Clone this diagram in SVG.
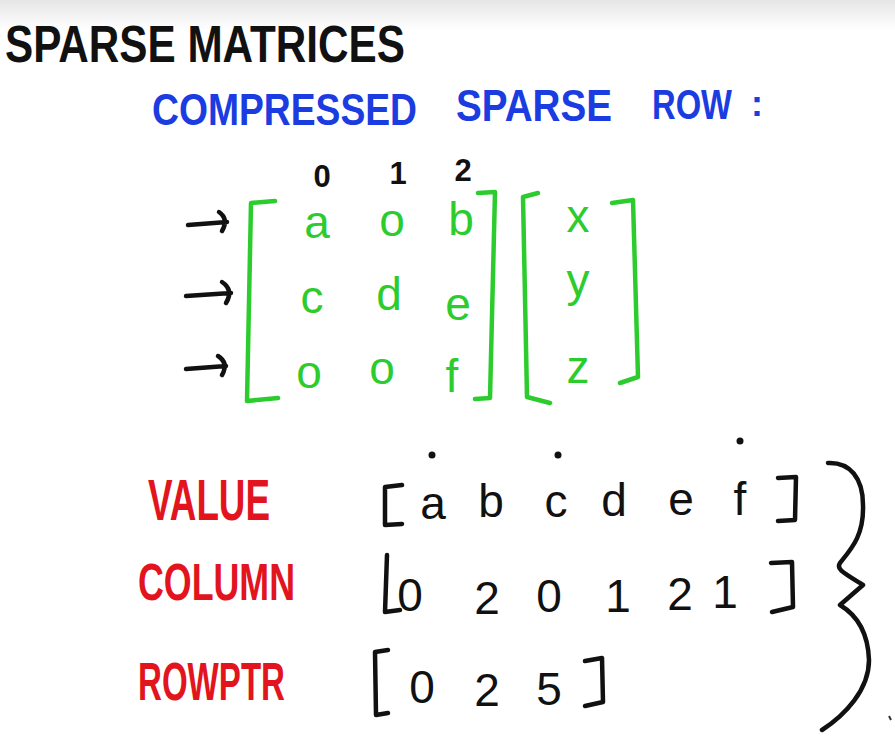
<svg xmlns="http://www.w3.org/2000/svg" width="895" height="741" viewBox="0 0 895 741">
<defs>
<linearGradient id="bg" x1="0" y1="0" x2="0" y2="1">
<stop offset="0" stop-color="#e6e6e6"/>
<stop offset="1" stop-color="#ffffff"/>
</linearGradient>
<style>
.t{font-family:"Liberation Sans",Arial,sans-serif;font-weight:bold}
.h{font-family:"Liberation Sans",Arial,sans-serif}
.blk{fill:#111}
.blue{fill:#1a3ce0}
.red{fill:#e2141e}
.grn{fill:#2ccc2e}
.gs{fill:none;stroke:#2ccc2e;stroke-width:4.5;stroke-linecap:round;stroke-linejoin:round}
.ks{fill:none;stroke:#111;stroke-width:4.5;stroke-linecap:round;stroke-linejoin:round}
</style>
</defs>
<rect width="895" height="741" fill="#ffffff"/>
<rect width="895" height="30" fill="url(#bg)"/>

<g id="title">
<text class="t blk" x="5" y="62" font-size="52" textLength="400" lengthAdjust="spacingAndGlyphs">SPARSE MATRICES</text>
</g>
<g id="subtitle">
<text class="t blue" x="152" y="125" font-size="44" textLength="265" lengthAdjust="spacingAndGlyphs">COMPRESSED</text>
<text class="t blue" x="456" y="121" font-size="44" textLength="156" lengthAdjust="spacingAndGlyphs">SPARSE</text>
<text class="t blue" transform="translate(652,119) scale(1,1.3)" x="0" y="0" font-size="32" textLength="80" lengthAdjust="spacingAndGlyphs">ROW</text>
<text class="t blue" x="751" y="116" font-size="36">:</text>
</g>

<g id="col-indices" class="t blk" font-size="31" text-anchor="middle">
<text x="322" y="187">0</text>
<text x="398" y="184">1</text>
<text x="463" y="181">2</text>
</g>

<g id="row-arrows">
<path class="ks" d="M188,225 L227,222 M219,212 Q229,219 222,231"/>
<path class="ks" d="M186,296 L231,293 M222,282 Q234,290 226,303"/>
<path class="ks" d="M186,369 L226,366 M218,356 Q229,363 222,375"/>
</g>

<g id="matrix">
<path class="gs" d="M275,201 L251,203 L247,401 L278,398"/>
<path class="gs" d="M478,193 L495,192 L490,398 L475,399"/>
<g class="h grn" font-size="46" text-anchor="middle">
<text x="317" y="238">a</text>
<text x="392" y="236">o</text>
<text x="461" y="235">b</text>
<text x="312" y="313">c</text>
<text x="389" y="310">d</text>
<text x="458" y="320">e</text>
<text x="309" y="388">o</text>
<text x="382" y="384">o</text>
<text x="452" y="392">f</text>
</g>
</g>

<g id="vector">
<path class="gs" d="M538,193 L523,197 L527,397 L550,403"/>
<path class="gs" d="M612,203 L633,200 L638,377 L620,383"/>
<g class="h grn" font-size="46" text-anchor="middle">
<text x="578" y="232">x</text>
<text x="578" y="296">y</text>
<text x="578" y="383">z</text>
</g>
</g>

<g id="labels" class="t red">
<text x="148" y="520" font-size="58" textLength="122" lengthAdjust="spacingAndGlyphs">VALUE</text>
<text x="138" y="600" font-size="52" textLength="157" lengthAdjust="spacingAndGlyphs">COLUMN</text>
<text x="138" y="700" font-size="54" textLength="147" lengthAdjust="spacingAndGlyphs">ROWPTR</text>
</g>

<g id="value-array">
<path class="ks" d="M402,485 L385,487 L385,525 L402,524"/>
<path class="ks" d="M778,478 L796,477 L795,520 L778,521"/>
<g class="h blk" font-size="46" text-anchor="middle">
<text x="433" y="519">a</text>
<text x="491" y="517">b</text>
<text x="556" y="517">c</text>
<text x="614" y="516">d</text>
<text x="681" y="515">e</text>
<text x="740" y="515">f</text>
</g>
<circle cx="432" cy="455" r="3.5" fill="#111"/>
<circle cx="558" cy="455" r="3.5" fill="#111"/>
<circle cx="740" cy="441" r="3.5" fill="#111"/>
</g>

<g id="column-array">
<path class="ks" d="M387,555 L385,612 L400,610"/>
<path class="ks" d="M771,563 L792,562 L793,607 L772,612"/>
<g class="h blk" font-size="46" text-anchor="middle">
<text x="410" y="611">0</text>
<text x="487" y="614">2</text>
<text x="549" y="612">0</text>
<text x="618" y="612">1</text>
<text x="680" y="610">2</text>
<text x="725" y="608">1</text>
</g>
</g>

<g id="rowptr-array">
<path class="ks" d="M388,650 L375,652 L376,715 L388,713"/>
<path class="ks" d="M585,661 L602,658 L603,702 L585,706"/>
<g class="h blk" font-size="46" text-anchor="middle">
<text x="422" y="703">0</text>
<text x="487" y="706">2</text>
<text x="549" y="705">5</text>
</g>
</g>

<g id="brace">
<path class="ks" d="M828,463 C850,462 863,478 863,505 C864,535 852,548 840,563 C836,569 842,572 863,585 L840,605 C855,614 868,630 869,660 C869,690 845,715 822,730"/>
<path d="M889,716 L891,720" stroke="#333" stroke-width="2" fill="none"/>
</g>
</svg>
